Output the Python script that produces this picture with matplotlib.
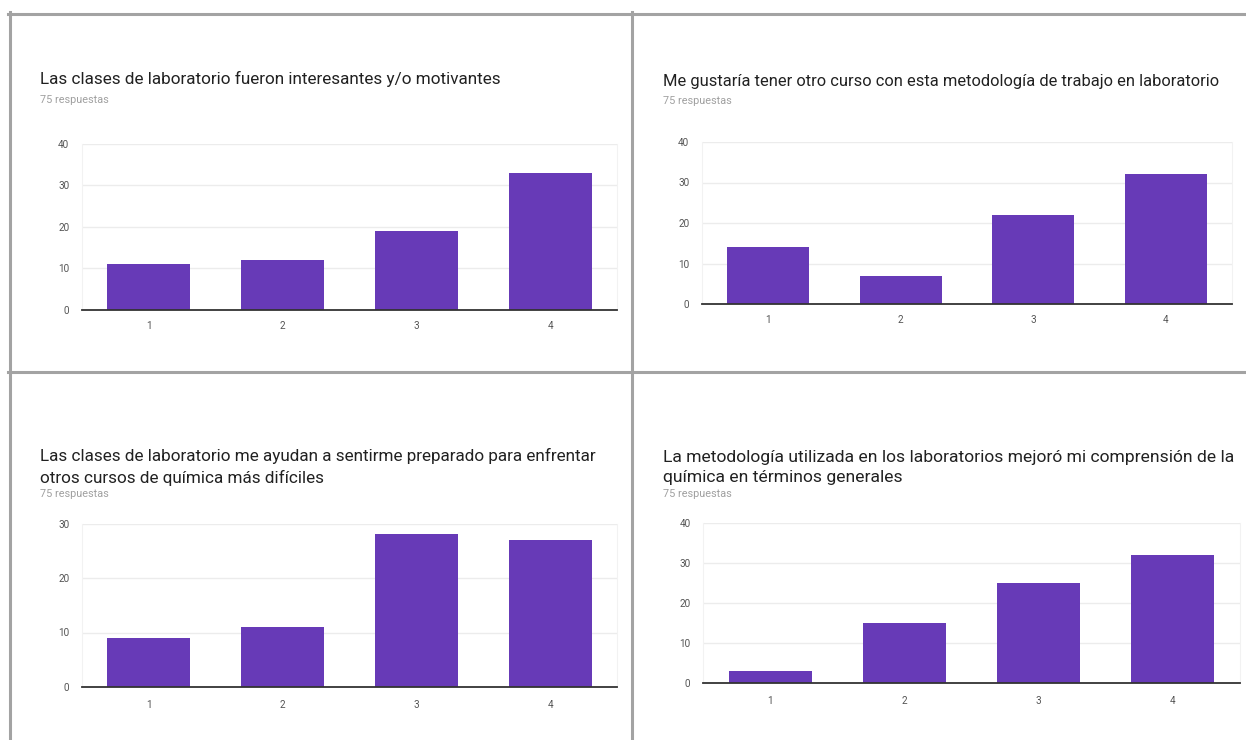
import matplotlib
matplotlib.use("Agg")
import matplotlib.pyplot as plt
from matplotlib.lines import Line2D

plt.rcParams['font.family'] = ['Roboto', 'DejaVu Sans']

categories = ["1", "2", "3", "4"]

title_1 = "Las clases de laboratorio fueron interesantes y/o motivantes"
values_1 = [11, 12, 19, 33]
yticks_1 = [0, 10, 20, 30, 40]

title_2 = "Me gustaría tener otro curso con esta metodología de trabajo en laboratorio"
values_2 = [14, 7, 22, 32]
yticks_2 = [0, 10, 20, 30, 40]

title_3 = "Las clases de laboratorio me ayudan a sentirme preparado para enfrentar\notros cursos de química más difíciles"
values_3 = [9, 11, 28, 27]
yticks_3 = [0, 10, 20, 30]

title_4 = "La metodología utilizada en los laboratorios mejoró mi comprensión de la\nquímica en términos generales"
values_4 = [3, 15, 25, 32]
yticks_4 = [0, 10, 20, 30, 40]

subtitle = "75 respuestas"

W, H = 1246, 740
fig = plt.figure(figsize=(W / 100, H / 100), dpi=100)
fig.patch.set_facecolor("white")

BAR = "#673ab7"
FRAME = "#a3a3a3"


def px_rect(x0, y_top, x1, y_bot):
    return [x0 / W, 1 - y_bot / H, (x1 - x0) / W, (y_bot - y_top) / H]


def panel(rect, values, yticks, title, tx, ty_last, sy, tick_gap, tsize):
    ax = fig.add_axes(px_rect(*rect))
    x = list(range(len(categories)))
    ax.bar(x, values, width=0.62, color=BAR, zorder=3)
    ax.set_xlim(-0.5, len(categories) - 0.5)
    ax.set_ylim(yticks[0], yticks[-1])
    ax.set_yticks(yticks)
    ax.set_xticks(x)
    ax.set_xticklabels(categories)
    ax.grid(axis="y", color="#ececec", linewidth=1.0, zorder=0)
    ax.spines["top"].set_visible(False)
    for s in ["left", "right"]:
        ax.spines[s].set_color("#f2f2f2")
        ax.spines[s].set_linewidth(0.8)
    ax.spines["bottom"].set_color("#333333")
    ax.spines["bottom"].set_linewidth(1.3)
    ax.spines["bottom"].set_zorder(4)
    ax.tick_params(axis="both", length=0, labelsize=7.2, labelcolor="#555555")
    ax.tick_params(axis="y", pad=9)
    ax.tick_params(axis="x", pad=tick_gap)
    ax.set_facecolor("white")
    fig.text(tx / W, 1 - ty_last / H, title, fontsize=tsize, color="#212121",
             ha="left", va="baseline", linespacing=1.42)
    fig.text(tx / W, 1 - sy / H, subtitle, fontsize=7.8, color="#a0a0a0",
             ha="left", va="center")
    return ax


panel((82, 143.5, 617, 310), values_1, yticks_1, title_1, 40, 84, 100, 8, 12.3)
panel((702, 142, 1232, 304), values_2, yticks_2, title_2, 663, 86, 101, 8, 11.85)
panel((82, 523.5, 617, 687), values_3, yticks_3, title_3, 40, 483, 494, 9, 12.35)
panel((703, 523, 1240, 683), values_4, yticks_4, title_4, 663, 482, 494, 9, 12.6)

lw = 2.2
fig.add_artist(Line2D([8 / W, 1], [1 - 13.5 / H] * 2, color=FRAME, linewidth=lw))
fig.add_artist(Line2D([9.5 / W] * 2, [1 - 12 / H, 0], color=FRAME, linewidth=lw))
fig.add_artist(Line2D([631.5 / W] * 2, [1 - 12 / H, 0], color=FRAME, linewidth=lw))
fig.add_artist(Line2D([8 / W, 1], [1 - 372 / H] * 2, color=FRAME, linewidth=lw))

fig.savefig("out.png", dpi=100, facecolor="white")
